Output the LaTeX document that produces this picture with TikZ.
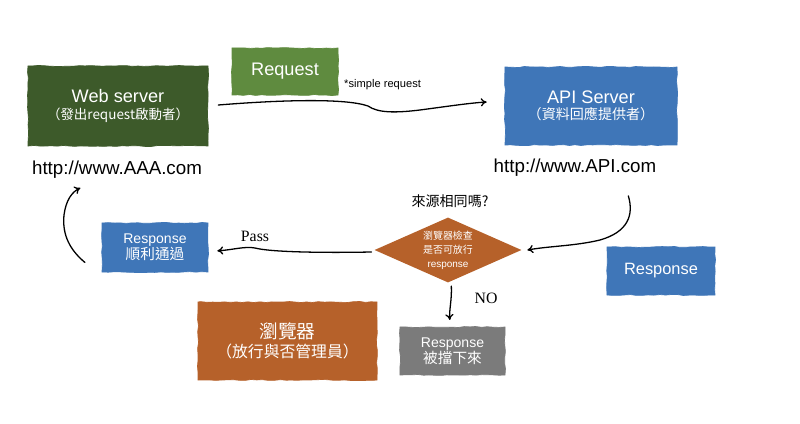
\documentclass[tikz,border=0pt]{standalone}
\usepackage{fontspec}
\setmainfont{Liberation Sans}
\newfontfamily\cjk{Noto Sans CJK TC}
\newfontfamily\timesfont{Liberation Serif}
\usetikzlibrary{arrows.meta,shapes.geometric,decorations.pathmorphing,positioning}
\definecolor{webgreen}{RGB}{61,90,42}
\definecolor{reqgreen}{RGB}{95,139,63}
\definecolor{apiblue}{RGB}{63,118,184}
\definecolor{rustorange}{RGB}{182,97,42}
\definecolor{blockgray}{RGB}{123,123,123}
\newcommand{\fs}[2]{\fontsize{#1}{#2}\selectfont}

\begin{document}
\begin{tikzpicture}[x=0.03cm,y=-0.03cm,
    box/.style={fill=#1,draw=#1,line width=0.6pt,text=white,align=center,inner sep=2pt,
      decorate,decoration={random steps,segment length=5pt,amplitude=0.45pt}},
    flow/.style={-{To[length=5pt,width=7pt]},line width=1.1pt,line cap=round}]
    \useasboundingbox (0,0) rectangle (800,424);
    % top row
    \node[box=webgreen,minimum width=5.4cm,minimum height=2.4cm] (web) at (118,106)
      {{\fs{15.5}{18}Web server}\\[2pt]{\fs{11.5}{14}\cjk （發出request啟動者）}};
    \node (aaaurl) at (117,170) {\fs{16}{18}http://www.AAA.com};
    \node[box=reqgreen,minimum width=3.18cm,minimum height=1.41cm] (req) at (285,71.5)
      {\fs{15.5}{18}Request};
    \node[anchor=west,inner sep=0] (simple) at (344,85) {\fs{9.5}{11}*simple request};
    \node[box=apiblue,minimum width=5.16cm,minimum height=2.34cm] (api) at (591,106)
      {{\fs{15.5}{18}API Server}\\[2pt]{\fs{12}{14}\cjk （資料回應提供者）}};
    \node (apiurl) at (575,168) {\fs{16}{18}http://www.API.com};
    % check
    \node (same) at (450,201) {\fs{12}{14}\cjk 來源相同嗎?};
    \node[diamond,fill=rustorange,text=white,align=center,inner sep=0,aspect=2.26,
      minimum width=4.41cm,minimum height=1.95cm] (check) at (448,250)
      {\fs{8.5}{11.5}\cjk 瀏覽器檢查\\\fs{8.5}{11.5}\cjk 是否可放行\\\fs{8.5}{11.5}response};
    \node[box=apiblue,minimum width=3.18cm,minimum height=1.47cm] (resok) at (155,247.5)
      {{\fs{12}{14}Response}\\[0pt]{\fs{12.5}{14}\cjk 順利通過}};
    \node (pass) at (255,236) {\fs{13.5}{15}\timesfont Pass};
    \node[box=apiblue,minimum width=3.24cm,minimum height=1.44cm] (resp) at (661,271)
      {\fs{14}{16}Response};
    % bottom row
    \node[box=rustorange,minimum width=5.37cm,minimum height=2.34cm] (browser) at (287.5,341)
      {{\fs{16}{19}\cjk 瀏覽器}\\[2pt]{\fs{13.5}{16}\cjk （放行與否管理員）}};
    \node[box=blockgray,minimum width=3.15cm,minimum height=1.44cm] (blocked) at (452.5,351)
      {{\fs{12}{14}Response}\\[0pt]{\fs{12.5}{14}\cjk 被擋下來}};
    \node (no) at (486,298) {\fs{13.5}{15}\timesfont NO};
    % connectors
    \draw[flow] ([xshift=0.3cm,yshift=0.03cm]web.east) .. controls (280,100) and (345,98) .. (368,106)
      .. controls (378,113) and (395,113) .. (420,110)
      .. controls (450,106) and (470,103) .. ([xshift=-0.54cm,yshift=0.12cm]api.west);
    \draw[flow] ([xshift=1.6cm,yshift=-0.45cm]apiurl.south) .. controls (634,215) and (628,232) .. (600,240)
      .. controls (575,246) and (550,246) .. ([xshift=0.17cm]check.east);
    \draw[flow] ([xshift=-0.08cm,yshift=-0.06cm]check.west) .. controls (320,253) and (270,252) .. (255,248)
      .. controls (245,246) and (232,250) .. ([xshift=0.27cm,yshift=-0.1cm]resok.east);
    \draw[flow] ([xshift=-0.5cm,yshift=-0.45cm]resok.west) .. controls (70,250) and (62,235) .. (64,215)
      .. controls (66,200) and (72,192) .. ([xshift=-1.1cm,yshift=-0.15cm]aaaurl.south);
    \draw[flow] ([xshift=0.1cm,yshift=-0.1cm]check.south) .. controls (452,300) and (449,310)
      .. ([xshift=-0.08cm,yshift=0.2cm]blocked.north);
\end{tikzpicture}
\end{document}
